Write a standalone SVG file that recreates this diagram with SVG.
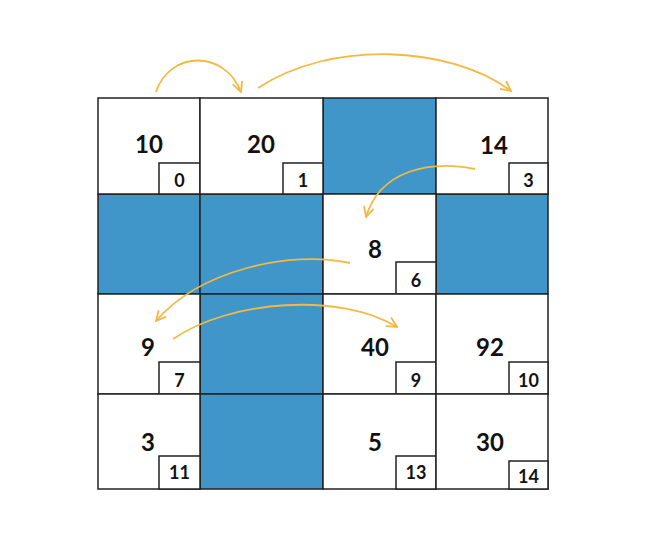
<svg xmlns="http://www.w3.org/2000/svg" width="646" height="541" viewBox="0 0 646 541">
<defs>
<style>
.cell{fill:#ffffff;stroke:#222222;stroke-width:1.5}
.blk{fill:#4096c9;stroke:#222222;stroke-width:1.5}
.idx{fill:#ffffff;stroke:#222222;stroke-width:1.5}
.v{font-family:Lato,"Liberation Sans",sans-serif;font-weight:700;font-size:24px;fill:#111111;text-anchor:middle}
.i{font-family:Lato,"Liberation Sans",sans-serif;font-weight:700;font-size:18px;fill:#111111;text-anchor:middle}
.arc{fill:none;stroke:#f5b841;stroke-width:1.8;marker-end:url(#ah)}
</style>
<marker id="ah" viewBox="0 0 12 12" refX="11" refY="6" markerWidth="12" markerHeight="12" markerUnits="userSpaceOnUse" orient="auto">
<path d="M1,1 L11,6 L1,11" fill="none" stroke="#f5b841" stroke-width="1.8"/>
</marker>
</defs>
<rect width="646" height="541" fill="#ffffff"/>
<g id="blocked">
<rect class="blk" x="323" y="98" width="113" height="96"/>
<rect class="blk" x="98" y="194" width="102" height="100"/>
<rect class="blk" x="200" y="194" width="123" height="100"/>
<rect class="blk" x="436" y="194" width="112" height="100"/>
<rect class="blk" x="200" y="294" width="123" height="100"/>
<rect class="blk" x="200" y="394" width="123" height="95"/>
</g>
<g id="n0"><rect class="cell" x="98" y="98" width="102" height="96"/><text class="v" x="149" y="153">10</text><rect class="idx" x="159" y="163" width="41" height="31"/><text class="i" x="179.5" y="187">0</text></g>
<g id="n1"><rect class="cell" x="200" y="98" width="123" height="96"/><text class="v" x="261" y="153">20</text><rect class="idx" x="283" y="163" width="40" height="31"/><text class="i" x="303" y="187">1</text></g>
<g id="n3"><rect class="cell" x="436" y="98" width="112" height="96"/><text class="v" x="494" y="154">14</text><rect class="idx" x="509" y="163" width="39" height="31"/><text class="i" x="528.5" y="187">3</text></g>
<g id="n6"><rect class="cell" x="323" y="194" width="113" height="100"/><text class="v" x="375" y="258">8</text><rect class="idx" x="396" y="262" width="40" height="32"/><text class="i" x="416" y="287">6</text></g>
<g id="n7"><rect class="cell" x="98" y="294" width="102" height="100"/><text class="v" x="148" y="356">9</text><rect class="idx" x="159" y="362" width="41" height="32"/><text class="i" x="179.5" y="387">7</text></g>
<g id="n9"><rect class="cell" x="323" y="294" width="113" height="100"/><text class="v" x="375" y="356">40</text><rect class="idx" x="396" y="362" width="40" height="32"/><text class="i" x="416" y="387">9</text></g>
<g id="n10"><rect class="cell" x="436" y="294" width="112" height="100"/><text class="v" x="490" y="356">92</text><rect class="idx" x="509" y="362" width="39" height="32"/><text class="i" x="528.5" y="387">10</text></g>
<g id="n11"><rect class="cell" x="98" y="394" width="102" height="95"/><text class="v" x="148" y="451">3</text><rect class="idx" x="159" y="456" width="41" height="33"/><text class="i" x="179.5" y="479">11</text></g>
<g id="n13"><rect class="cell" x="323" y="394" width="113" height="95"/><text class="v" x="375" y="451">5</text><rect class="idx" x="396" y="456" width="40" height="33"/><text class="i" x="416" y="479">13</text></g>
<g id="n14"><rect class="cell" x="436" y="394" width="112" height="95"/><text class="v" x="490" y="451">30</text><rect class="idx" x="509" y="461" width="39" height="28"/><text class="i" x="528.5" y="483">14</text></g>
<g id="connectors">
<path class="arc" d="M156,92 C170,50 225,50 241,92"/>
<path class="arc" d="M258,88 C330,40 450,45 511,91"/>
<path class="arc" d="M475,169 C430,160 380,170 366,217"/>
<path class="arc" d="M350,263 C290,250 200,270 156,321"/>
<path class="arc" d="M173,339 C230,300 340,292 397,327"/>
</g>
</svg>
